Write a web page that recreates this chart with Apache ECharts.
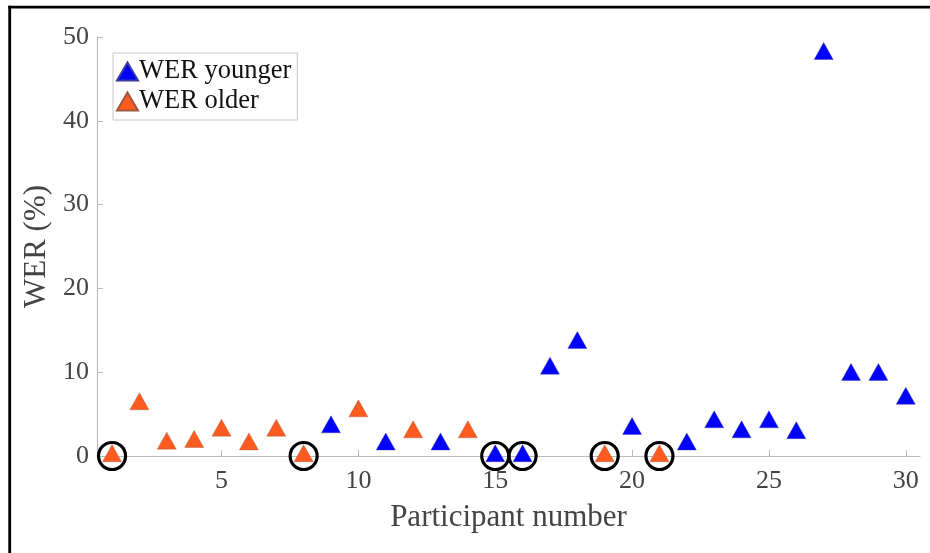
<!DOCTYPE html>
<html>
<head>
<meta charset="utf-8">
<script src="https://cdn.jsdelivr.net/npm/echarts@6/dist/echarts.min.js"></script>
<style>html,body{margin:0;padding:0;background:#fff;}#c{width:930px;height:553px;}</style>
</head>
<body>
<div id="c"></div>
<script>
// Participant numbers and WER (%) values
const youngerIds = [9, 11, 13, 15, 16, 17, 18, 20, 22, 23, 24, 25, 26, 27, 28, 29, 30];
const youngerWER = [3.45, 1.4, 1.4, 0, 0, 10.45, 13.5, 3.25, 1.4, 4.05, 2.85, 4.05, 2.75, 48, 9.7, 9.7, 6.85];
const olderIds = [1, 2, 3, 4, 5, 6, 7, 8, 10, 12, 14, 19, 21];
const olderWER = [0, 6.2, 1.5, 1.7, 3.05, 1.4, 3.05, 0, 5.35, 2.85, 2.85, 0, 0];
// circled participants (zero WER)
const circledIds = [1, 8, 15, 16, 19, 21];
const xTicks = [5, 10, 15, 20, 25, 30];
const yTicks = [0, 10, 20, 30, 40, 50];

const allIds = youngerIds.concat(olderIds);
const allWER = youngerWER.concat(olderWER);
const circledData = circledIds.map(id => [id, allWER[allIds.indexOf(id)]]);

const FONT = '"Liberation Serif", "DejaVu Serif", serif';
const TRI = [19, 17];
const TRI_OFF = [0, -2.8];

const chart = echarts.init(document.getElementById('c'));
chart.setOption({
  animation: false,
  backgroundColor: '#fff',
  grid: { left: 97, right: 10, top: 37, bottom: 97 },
  xAxis: {
    type: 'value',
    min: 0.45, max: 30.52,
    name: 'Participant number',
    nameLocation: 'middle',
    nameGap: 46,
    nameTextStyle: { fontFamily: FONT, fontSize: 31, color: '#444' },
    axisLine: { onZero: false, lineStyle: { color: '#bcbcbc', width: 1.2 } },
    axisTick: { inside: true, length: 6, customValues: xTicks, lineStyle: { color: '#bcbcbc' } },
    axisLabel: { customValues: xTicks, margin: 12, fontFamily: FONT, fontSize: 26, color: '#444' },
    splitLine: { show: false }
  },
  yAxis: {
    type: 'value',
    min: 0, max: 50, interval: 10,
    name: 'WER (%)',
    nameLocation: 'middle',
    nameGap: 44,
    nameTextStyle: { fontFamily: FONT, fontSize: 31, color: '#444' },
    axisLine: { show: true, lineStyle: { color: '#bcbcbc', width: 1.2 } },
    axisTick: { show: true, inside: true, length: 6, lineStyle: { color: '#bcbcbc' } },
    axisLabel: { margin: 8, fontFamily: FONT, fontSize: 26, color: '#444' },
    splitLine: { show: false }
  },
  legend: {
    orient: 'vertical',
    left: 113, top: 53,
    padding: [5, 6, 5, 3],
    itemGap: 3,
    itemWidth: 21, itemHeight: 18,
    backgroundColor: '#fff',
    borderColor: '#c8c8c8',
    borderWidth: 1,
    borderRadius: 0,
    textStyle: { fontFamily: FONT, fontSize: 26.5, color: '#111', padding: [0, 0, 0, -4] },
    data: [
      { name: 'WER younger', icon: 'triangle' },
      { name: 'WER older', icon: 'triangle' }
    ]
  },
  graphic: [
    { type: 'line', silent: true, shape: { x1: 9.7, y1: 5.8, x2: 9.7, y2: 553 }, style: { stroke: '#000', lineWidth: 2.8 } },
    { type: 'line', silent: true, shape: { x1: 8.3, y1: 7.2, x2: 930, y2: 7.2 }, style: { stroke: '#000', lineWidth: 2.8 } }
  ],
  series: [
    {
      name: 'circled',
      type: 'scatter',
      data: circledData,
      symbol: 'circle',
      symbolSize: 27,
      itemStyle: { color: 'rgba(0,0,0,0)', borderColor: '#000', borderWidth: 3.2, opacity: 1 },
      z: 1,
      silent: true
    },
    {
      name: 'WER younger',
      type: 'scatter',
      data: youngerIds.map((id, i) => [id, youngerWER[i]]),
      symbol: 'triangle',
      symbolSize: TRI,
      symbolOffset: TRI_OFF,
      itemStyle: { color: '#0000FF', borderColor: '#3a3aa0', borderWidth: 0.4, opacity: 1 },
      z: 3
    },
    {
      name: 'WER older',
      type: 'scatter',
      data: olderIds.map((id, i) => [id, olderWER[i]]),
      symbol: 'triangle',
      symbolSize: TRI,
      symbolOffset: TRI_OFF,
      itemStyle: { color: '#FF5A1F', borderColor: '#9a5a40', borderWidth: 0.4, opacity: 1 },
      z: 3
    }
  ]
});
</script>
</body>
</html>
